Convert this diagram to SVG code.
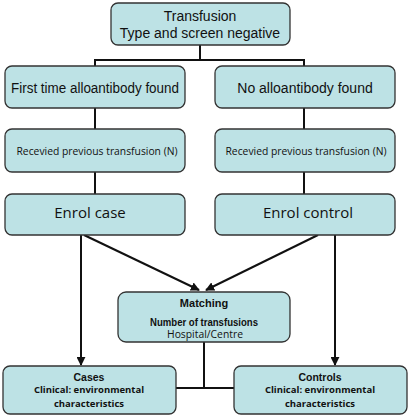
<svg xmlns="http://www.w3.org/2000/svg" width="410" height="416" viewBox="0 0 410 416">
<style>
.box{fill:#bde2e5;stroke:#333;stroke-width:1.3}
.ln{stroke:#111;stroke-width:2;fill:none}
.t{font-family:"Liberation Sans",Arial,sans-serif;fill:#111;text-anchor:middle}
.c{font-family:"Open Sans","DejaVu Sans",sans-serif;fill:#111;text-anchor:middle}
</style>
<defs>
<marker id="ah" viewBox="0 0 10 10" refX="9" refY="5" markerWidth="4.5" markerHeight="4.5" orient="auto" markerUnits="strokeWidth">
<path d="M0,0 L10,5 L0,10 Z" fill="#111"/>
</marker>
</defs>
<g id="connectors">
<path class="ln" d="M200,45 V60 M95,60 H304 M95,59 V66 M304,59 V66"/>
<path class="ln" d="M95,108 V129 M304,108 V129"/>
<path class="ln" d="M95,172 V194 M304,172 V194"/>
<path class="ln" d="M81,235 V365" marker-end="url(#ah)"/>
<path class="ln" d="M335,235 V365" marker-end="url(#ah)"/>
<path class="ln" d="M84,235 L199,290" marker-end="url(#ah)"/>
<path class="ln" d="M318,235 L206,290" marker-end="url(#ah)"/>
<path class="ln" d="M204,342 V388 M176,388 H234"/>
</g>
<g id="n-transfusion">
<rect class="box" x="111" y="3" width="179" height="42" rx="7"/>
<text class="t" x="200" y="21" font-size="14">Transfusion</text>
<text class="t" x="200" y="38" font-size="14">Type and screen negative</text>
</g>
<g id="n-first">
<rect class="box" x="5" y="66" width="180" height="42" rx="7"/>
<text class="t" x="95" y="93" font-size="14" textLength="168" lengthAdjust="spacingAndGlyphs">First time alloantibody found</text>
</g>
<g id="n-no">
<rect class="box" x="215" y="66" width="180" height="42" rx="7"/>
<text class="t" x="305" y="93" font-size="14">No alloantibody found</text>
</g>
<g id="n-prev-l">
<rect class="box" x="5" y="129" width="180" height="43" rx="7"/>
<text class="c" x="97" y="155" font-size="10.2" textLength="161" lengthAdjust="spacingAndGlyphs">Recevied previous transfusion (N)</text>
</g>
<g id="n-prev-r">
<rect class="box" x="215" y="129" width="180" height="43" rx="7"/>
<text class="c" x="306" y="155" font-size="10.2" textLength="161" lengthAdjust="spacingAndGlyphs">Recevied previous transfusion (N)</text>
</g>
<g id="n-enrol-case">
<rect class="box" x="5" y="194" width="180" height="41" rx="7"/>
<text class="c" x="90" y="218" font-size="15">Enrol case</text>
</g>
<g id="n-enrol-control">
<rect class="box" x="215" y="194" width="180" height="41" rx="7"/>
<text class="c" x="308" y="218" font-size="15">Enrol control</text>
</g>
<g id="n-matching">
<rect class="box" x="118" y="292" width="172" height="50" rx="8"/>
<text class="t" x="204" y="307" font-size="11" font-weight="bold">Matching</text>
<text class="t" x="204" y="326" font-size="10.5" font-weight="bold" textLength="108" lengthAdjust="spacingAndGlyphs">Number of transfusions</text>
<text class="c" x="205" y="338" font-size="10.5" textLength="76" lengthAdjust="spacingAndGlyphs">Hospital/Centre</text>
</g>
<g id="n-cases">
<rect class="box" x="3" y="366" width="173" height="48" rx="7"/>
<text class="t" x="89" y="381" font-size="10.5" font-weight="bold">Cases</text>
<text class="c" x="89" y="393" font-size="9.5" font-weight="bold">Clinical: environmental</text>
<text class="c" x="89" y="407" font-size="9.5" font-weight="bold">characteristics</text>
</g>
<g id="n-controls">
<rect class="box" x="234" y="366" width="173" height="48" rx="7"/>
<text class="t" x="320" y="381" font-size="10.5" font-weight="bold">Controls</text>
<text class="c" x="320" y="393" font-size="9.5" font-weight="bold">Clinical: environmental</text>
<text class="c" x="320" y="407" font-size="9.5" font-weight="bold">characteristics</text>
</g>
</svg>
